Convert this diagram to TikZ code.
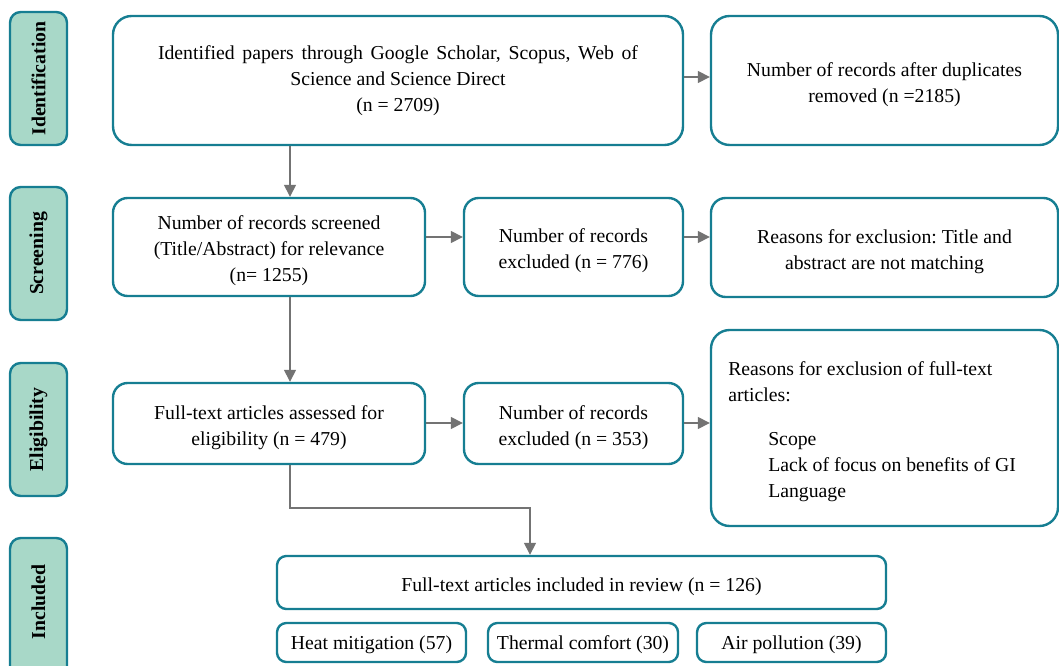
\documentclass[tikz,border=0pt]{standalone}
\usepackage{fontspec}
\setmainfont{Liberation Serif}
\usetikzlibrary{fit,arrows.meta}
\definecolor{tealb}{RGB}{22,126,146}
\definecolor{mint}{RGB}{168,216,200}
\definecolor{arrg}{RGB}{115,115,115}
\begin{document}
\begin{tikzpicture}[x=0.75pt,y=-0.75pt,
  txt/.style={font=\fontsize{14.8}{19.5}\selectfont\frenchspacing,align=center,inner sep=0pt,yshift=-3pt},
  box/.style={draw=tealb,line width=1.8pt,rounded corners=14pt,fit={#1},inner sep=0pt},
  mbox/.style={box={#1},rounded corners=11pt},
  sbox/.style={box={#1},rounded corners=7pt},
  side/.style={draw=tealb,fill=mint,line width=1.8pt,rounded corners=8pt,fit={#1},inner sep=0pt},
  sidetxt/.style={rotate=90,font=\fontsize{14.8}{18}\selectfont\bfseries},
  arr/.style={draw=arrg,line width=1.1pt,-{Triangle[length=9pt,width=9pt]}}]
\useasboundingbox (0,0) rectangle (1059,666);
\clip (0,0) rectangle (1059,666);
% side labels
\node[side={(10,12)(67,145)}] (s1) {};
\node[sidetxt] (s1t) at (s1) {Identification};
\node[side={(10,187)(67,320)}] (s2) {};
\node[sidetxt] (s2t) at (s2) {Screening};
\node[side={(10,363)(67,496)}] (s3) {};
\node[sidetxt] (s3t) at (s3) {Eligibility};
\node[side={(10,538)(67,690)}] (s4) {};
\node[sidetxt] (s4t) at (38.5,602) {Included};
% boxes
\node[box={(113,16)(683,145)}] (id) {};
\node[txt,yshift=3pt] (idt) at (id) {\makebox[360pt][s]{Identified papers through Google Scholar, Scopus, Web of}\\Science and Science Direct\\(n = 2709)};
\node[box={(711,16)(1058,145)}] (dup) {};
\node[txt] (dupt) at (dup) {Number of records after duplicates\\removed (n =2185)};
\node[mbox={(113,198)(425,296)}] (scr) {};
\node[txt] (scrt) at (scr) {Number of records screened\\(Title/Abstract) for relevance\\(n= 1255)};
\node[mbox={(464,198)(683,296)}] (ex1) {};
\node[txt] (ex1t) at (ex1) {Number of records\\excluded (n = 776)};
\node[mbox={(711,198)(1058,297)}] (rs1) {};
\node[txt] (rs1t) at (rs1) {Reasons for exclusion: Title and\\abstract are not matching};
\node[mbox={(113,383)(425,464)}] (ft) {};
\node[txt] (ftt) at (ft) {Full-text articles assessed for\\eligibility (n = 479)};
\node[mbox={(464,383)(683,464)}] (ex2) {};
\node[txt] (ex2t) at (ex2) {Number of records\\excluded (n = 353)};
\node[box={(711,330)(1058,526)}] (rs2) {};
\node[txt,yshift=3pt,anchor=north west,align=left] (rs2t) at (728,361)
  {Reasons for exclusion of full-text\\articles:\\[13.5pt]
   \hspace*{30pt}Scope\\\hspace*{30pt}Lack of focus on benefits of GI\\\hspace*{30pt}Language};
\node[sbox={(277,556)(886,609)}] (inc) {};
\node[txt] (inct) at (inc) {Full-text articles included in review (n = 126)};
\node[sbox={(277,623)(466,662)}] (hm) {};
\node[txt,yshift=1.5pt] (hmt) at (hm) {Heat mitigation (57)};
\node[sbox={(488,623)(678,662)}] (tc) {};
\node[txt,yshift=1.5pt] (tct) at (tc) {Thermal comfort (30)};
\node[sbox={(697,623)(886,662)}] (ap) {};
\node[txt,yshift=1.5pt] (apt) at (ap) {Air pollution (39)};
% connectors
\coordinate (x290) at (290,0);
\coordinate (y77) at (0,77);
\coordinate (y237) at (0,237);
\coordinate (y423) at (0,423);
\coordinate (j1) at (290,508);
\coordinate (j2) at (530,508);
\draw[arr] (id.south -| x290) -- (scr.north -| x290);
\draw[arr] (id.east |- y77) -- (dup.west |- y77);
\draw[arr] (scr.east |- y237) -- (ex1.west |- y237);
\draw[arr] (ex1.east |- y237) -- (rs1.west |- y237);
\draw[arr] (scr.south -| x290) -- (ft.north -| x290);
\draw[arr] (ft.east |- y423) -- (ex2.west |- y423);
\draw[arr] (ex2.east |- y423) -- (rs2.west |- y423);
\draw[arr] (ft.south -| j1) -- (j1) -- (j2) -- (inc.north -| j2);
\end{tikzpicture}
\end{document}
